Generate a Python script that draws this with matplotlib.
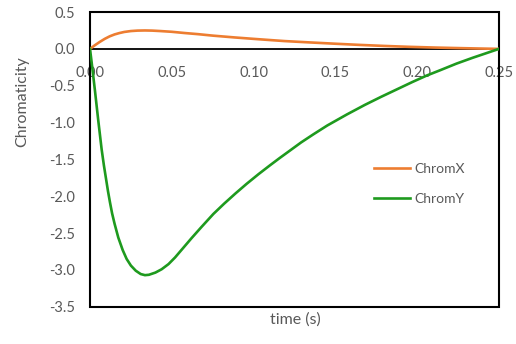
import matplotlib
matplotlib.use('Agg')
import matplotlib.pyplot as plt
from matplotlib.patches import Rectangle

plt.rcParams['font.family'] = ['Lato', 'DejaVu Sans']

# values (time in s)
t_x = [0.0, 0.003, 0.006, 0.009, 0.012, 0.015, 0.018, 0.021, 0.025, 0.029, 0.0336,
       0.038, 0.043, 0.050, 0.058, 0.066, 0.075, 0.0886, 0.100, 0.110, 0.119, 0.135,
       0.150, 0.165, 0.180, 0.195, 0.211, 0.225, 0.238, 0.25]
chrom_x = [0.0, 0.05, 0.095, 0.136, 0.17, 0.196, 0.215, 0.23, 0.242, 0.248, 0.25,
           0.248, 0.242, 0.232, 0.215, 0.20, 0.18, 0.155, 0.136, 0.12, 0.106, 0.087,
           0.07, 0.054, 0.04, 0.028, 0.018, 0.011, 0.005, 0.0]

t_y = [0.0, 0.001, 0.002, 0.003, 0.004, 0.005, 0.006, 0.0071, 0.0085, 0.010, 0.011,
       0.0122, 0.0135, 0.015, 0.0173, 0.020, 0.0224, 0.025, 0.028, 0.031, 0.0336,
       0.036, 0.040, 0.0438, 0.048, 0.052, 0.057, 0.062, 0.068, 0.0754, 0.082, 0.089,
       0.0958, 0.103, 0.110, 0.116, 0.1222, 0.129, 0.1365, 0.145, 0.157, 0.168, 0.178,
       0.1875, 0.197, 0.206, 0.214, 0.224, 0.234, 0.242, 0.25]
chrom_y = [0.0, -0.18, -0.37, -0.56, -0.76, -0.96, -1.15, -1.36, -1.58, -1.79, -1.93,
           -2.08, -2.23, -2.37, -2.56, -2.73, -2.85, -2.94, -3.01, -3.055, -3.07,
           -3.065, -3.035, -2.99, -2.92, -2.83, -2.70, -2.57, -2.42, -2.24, -2.10, -1.96,
           -1.83, -1.70, -1.58, -1.48, -1.38, -1.27, -1.16, -1.04, -0.89, -0.76, -0.65,
           -0.55, -0.45, -0.36, -0.29, -0.20, -0.12, -0.06, 0.0]

x_ticks = [0.00, 0.05, 0.10, 0.15, 0.20, 0.25]
y_ticks = [0.5, 0.0, -0.5, -1.0, -1.5, -2.0, -2.5, -3.0, -3.5]

grey = '#595959'

fig = plt.figure(figsize=(5.16, 3.44), dpi=100)
ax = fig.add_axes([0.1744, 0.108, 0.7926, 0.857])

ax.plot(t_x, chrom_x, color='#ED7D31', lw=1.9, label='ChromX', zorder=3)
ax.plot(t_y, chrom_y, color='#1E9A1E', lw=1.9, label='ChromY', zorder=3)

ax.set_xlim(0, 0.25)
ax.set_ylim(-3.5, 0.5)
ax.set_xticks(x_ticks)
ax.set_xticklabels(['%.2f' % v for v in x_ticks])
ax.set_yticks(y_ticks)
ax.set_yticklabels(['%.1f' % v for v in y_ticks])

# x axis crosses at zero, like Excel
for s in ['top', 'right', 'left']:
    ax.spines[s].set_visible(False)
ax.spines['bottom'].set_position(('data', 0))
ax.spines['bottom'].set_linewidth(1.3)
ax.spines['bottom'].set_zorder(2)
ax.add_patch(Rectangle((0, 0), 1, 1, transform=ax.transAxes, fill=False,
                       lw=1.5, ec='black', clip_on=False, zorder=2))

ax.tick_params(axis='x', length=0, pad=12, labelsize=10.5, labelcolor=grey)
ax.tick_params(axis='y', length=0, pad=11, labelsize=10.5, labelcolor=grey)

ax.set_xlabel('time (s)', fontsize=11.5, color=grey)
ax.xaxis.set_label_coords(0.501, -0.02)
ax.set_ylabel('Chromaticity', fontsize=11.5, color=grey)
ax.yaxis.set_label_coords(-0.148, 0.697)

leg = ax.legend(loc='center left', bbox_to_anchor=(0.663, 0.417), frameon=False,
                fontsize=10, handlelength=2.6, handletextpad=0.35, labelspacing=1.25)
for txt in leg.get_texts():
    txt.set_color(grey)

fig.savefig('out.png', dpi=100)
